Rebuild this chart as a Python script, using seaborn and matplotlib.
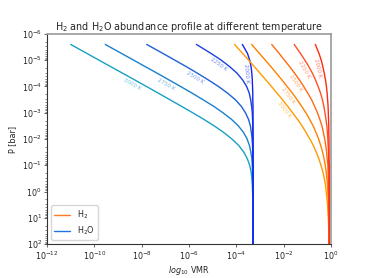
import numpy as np
import pandas as pd
import matplotlib
matplotlib.use("Agg")
import matplotlib.pyplot as plt
import seaborn as sns
from matplotlib.lines import Line2D

# log10 of pressure [bar], shared by all profiles
log_pressure = [-5.6, -5.25, -5.0, -4.75, -4.5, -4.25, -4.0, -3.75, -3.5, -3.25,
                -3.0, -2.75, -2.5, -2.25, -2.0, -1.75, -1.5, -1.25, -1.0, -0.75,
                -0.5, -0.25, 0.0, 0.25, 0.5, 0.75, 1.0, 1.25, 1.5, 1.75, 2.0]

temperatures = [3000, 2750, 2500, 2250, 2000]

# log10 VMR of H2O
h2o_3000 = [-11.0, -10.3, -9.8, -9.3, -8.8, -8.3, -7.8, -7.31, -6.82, -6.33,
            -5.85, -5.38, -4.94, -4.54, -4.19, -3.90, -3.69, -3.54, -3.44, -3.38,
            -3.35, -3.33, -3.32, -3.31, -3.31] + [-3.30] * 6
h2o_2750 = [-9.54, -8.84, -8.34, -7.84, -7.34, -6.85, -6.36, -5.88, -5.42, -4.97,
            -4.57, -4.21, -3.92, -3.70, -3.55, -3.45, -3.39, -3.35, -3.33, -3.32,
            -3.31, -3.31, -3.30] + [-3.30] * 8
h2o_2500 = [-7.79, -7.09, -6.60, -6.11, -5.64, -5.19, -4.76, -4.38, -4.05, -3.80,
            -3.62, -3.49, -3.41, -3.37, -3.34, -3.32, -3.31, -3.31, -3.30] + [-3.30] * 12
h2o_2250 = [-5.69, -5.06, -4.64, -4.28, -3.97, -3.74, -3.57, -3.46, -3.40, -3.36,
            -3.33, -3.32, -3.31, -3.31, -3.30] + [-3.30] * 16
h2o_2000 = [-3.75, -3.53, -3.44, -3.38, -3.35, -3.33, -3.32, -3.31, -3.31, -3.30] + [-3.30] * 21

# log10 VMR of H2
h2_3000 = [-4.08, -3.73, -3.48, -3.24, -3.00, -2.76, -2.52, -2.29, -2.06, -1.84,
           -1.63, -1.42, -1.23, -1.06, -0.90, -0.75, -0.63, -0.52, -0.43, -0.35,
           -0.29, -0.24, -0.21, -0.18, -0.15, -0.14, -0.12, -0.11, -0.10, -0.10, -0.09]
h2_2750 = [-3.36, -3.02, -2.78, -2.54, -2.31, -2.08, -1.86, -1.64, -1.44, -1.25,
           -1.07, -0.91, -0.76, -0.64, -0.53, -0.44, -0.36, -0.30, -0.25, -0.21,
           -0.18, -0.15, -0.14, -0.12, -0.11, -0.10, -0.10, -0.09, -0.09, -0.09, -0.09]
h2_2500 = [-2.51, -2.19, -1.97, -1.75, -1.54, -1.34, -1.16, -0.99, -0.83, -0.70,
           -0.58, -0.48, -0.39, -0.33, -0.27, -0.23, -0.19, -0.17, -0.14, -0.13,
           -0.12, -0.11, -0.10, -0.10, -0.09, -0.09, -0.09, -0.09, -0.08, -0.08, -0.08]
h2_2250 = [-1.56, -1.29, -1.11, -0.94, -0.79, -0.66, -0.55, -0.45, -0.37, -0.31,
           -0.26, -0.22, -0.18, -0.16, -0.14, -0.13, -0.11, -0.11, -0.10, -0.09,
           -0.09, -0.09, -0.09, -0.08, -0.08] + [-0.08] * 6
h2_2000 = [-0.67, -0.51, -0.42, -0.35, -0.29, -0.24, -0.20, -0.17, -0.15, -0.13,
           -0.12, -0.11, -0.10, -0.10, -0.09, -0.09, -0.09, -0.09, -0.08] + [-0.08] * 12

h2o_profiles = [h2o_3000, h2o_2750, h2o_2500, h2o_2250, h2o_2000]
h2_profiles = [h2_3000, h2_2750, h2_2500, h2_2250, h2_2000]

# where each temperature label sits (index into log_pressure)
h2o_label_idx = [5, 5, 4, 2, 4]
h2_label_idx = [9, 7, 5, 3, 3]

h2o_colors = ["#18a0c4", "#1a80cc", "#1e60d6", "#1a40e4", "#1024f2"]
h2_colors = ["#ff9a00", "#ff8000", "#ff6a12", "#ff5220", "#ff2a12"]

rows = []
for species, profiles in [("H2O", h2o_profiles), ("H2", h2_profiles)]:
    for T, prof in zip(temperatures, profiles):
        for lp, lv in zip(log_pressure, prof):
            rows.append({"curve": f"{species} {T}", "pressure": 10 ** lp, "vmr": 10 ** lv})
df = pd.DataFrame(rows)

palette = {}
for T, c in zip(temperatures, h2o_colors):
    palette[f"H2O {T}"] = c
for T, c in zip(temperatures, h2_colors):
    palette[f"H2 {T}"] = c

sns.set_style("ticks")
plt.rcParams["font.family"] = ["DejaVu Sans"]

fig, ax = plt.subplots(figsize=(3.7, 2.78), dpi=100)
fig.subplots_adjust(left=0.127, right=0.895, top=0.878, bottom=0.122)
ax.set_xscale("log")
ax.set_yscale("log")

sns.lineplot(data=df, x="vmr", y="pressure", hue="curve", palette=palette,
             estimator=None, sort=False, legend=False, lw=1.0, ax=ax)

ax.set_xlim(1e-12, 1e0)
ax.set_ylim(1e2, 1e-6)

ax.set_title("H$_2$ and H$_2$O abundance profile at different temperature", fontsize=6.9, pad=3)
ax.set_xlabel("$log_{10}$ VMR", fontsize=5.8, labelpad=2)
ax.set_ylabel("P [bar]", fontsize=5.8, labelpad=3)
ax.tick_params(which="major", labelsize=5.8, length=2.2, width=0.5, pad=1.5)
ax.tick_params(which="minor", length=1.3, width=0.4)

for side in ["left", "bottom"]:
    ax.spines[side].set_color("#333333")
    ax.spines[side].set_linewidth(0.8)
for side in ["top", "right"]:
    ax.spines[side].set_color("#999999")
    ax.spines[side].set_linewidth(1.2)

# temperature labels along the curves
fig.canvas.draw()
for profiles, idxs, colors in [(h2o_profiles, h2o_label_idx, h2o_colors),
                               (h2_profiles, h2_label_idx, h2_colors)]:
    for T, prof, j, c in zip(temperatures, profiles, idxs, colors):
        pts = ax.transData.transform([(10 ** prof[j - 1], 10 ** log_pressure[j - 1]),
                                      (10 ** prof[j], 10 ** log_pressure[j]),
                                      (10 ** prof[j + 1], 10 ** log_pressure[j + 1])])
        dx, dy = pts[2] - pts[0]
        ang = np.arctan2(dy, dx)
        off = 3.6
        ax.annotate(f"{T} K", xy=(10 ** prof[j], 10 ** log_pressure[j]),
                    xytext=(off * np.sin(ang), -off * np.cos(ang)), textcoords="offset points",
                    rotation=np.degrees(ang), rotation_mode="anchor",
                    ha="center", va="center", fontsize=4.0, color=c, alpha=0.6)

handles = [Line2D([], [], color="#ff7a22", lw=1.0), Line2D([], [], color="#2272e6", lw=1.0)]
ax.legend(handles, ["H$_2$", "H$_2$O"], loc="lower left", fontsize=5.8,
          handlelength=2.0, borderpad=0.4, labelspacing=0.4, framealpha=0.8)

fig.savefig("out.png", dpi=100)
